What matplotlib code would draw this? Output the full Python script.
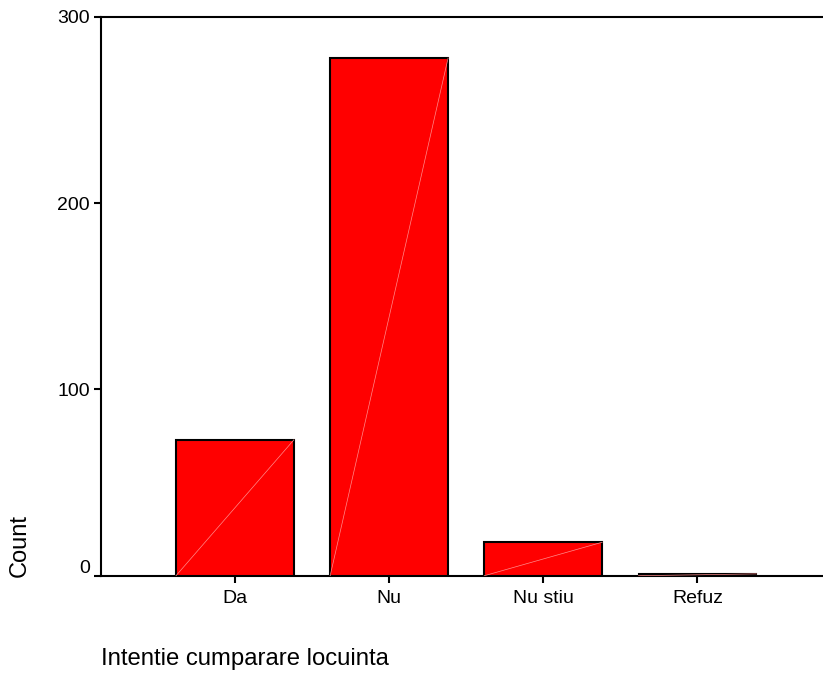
import matplotlib
matplotlib.use('Agg')
import matplotlib.pyplot as plt
import matplotlib.transforms as mtransforms
import numpy as np

plt.rcParams['font.family'] = ['Liberation Sans', 'DejaVu Sans']

categories = ['Da', 'Nu', 'Nu stiu', 'Refuz']
counts = [73, 278, 18, 1]
yticks = [0, 100, 200, 300]

fig = plt.figure(figsize=(8.23, 6.77), dpi=100)
ax = fig.add_axes([0.1227, 0.1496, 0.8773, 0.8253])

x = np.arange(len(categories))
w = 0.765
ax.bar(x, counts, width=w, color='#ff0000', edgecolor='black', linewidth=1.5, zorder=3)
# faint diagonal seen inside each bar
for xi, v in zip(x, counts):
    ax.plot([xi - w / 2, xi + w / 2], [0, v], color='#ff8c8c', linewidth=0.5, zorder=4)

ax.set_xlim(-0.869, 3.814)
ax.set_ylim(0, 300)
ax.set_xticks(x)
ax.set_xticklabels(categories)
ax.set_yticks(yticks)
ax.set_yticklabels([str(t) for t in yticks])

ax.spines['right'].set_visible(False)
for s in ['left', 'bottom', 'top']:
    ax.spines[s].set_linewidth(1.5)
ax.tick_params(axis='both', labelsize=14, width=1.5, direction='out')
ax.tick_params(axis='y', length=5, pad=3)
ax.tick_params(axis='x', length=5, pad=5)

# the 0 label sits slightly above its tick
lab0 = ax.get_yticklabels()[0]
lab0.set_transform(lab0.get_transform() + mtransforms.ScaledTranslation(0, 9 / 100, fig.dpi_scale_trans))

fig.text(20 / 823, 1 - 577 / 677, 'Count', rotation=90, ha='center', va='bottom', fontsize=17)
fig.text(101 / 823, 1 - 659 / 677, 'Intentie cumparare locuinta', ha='left', va='center', fontsize=17.2)

fig.savefig('out.png', dpi=100)
